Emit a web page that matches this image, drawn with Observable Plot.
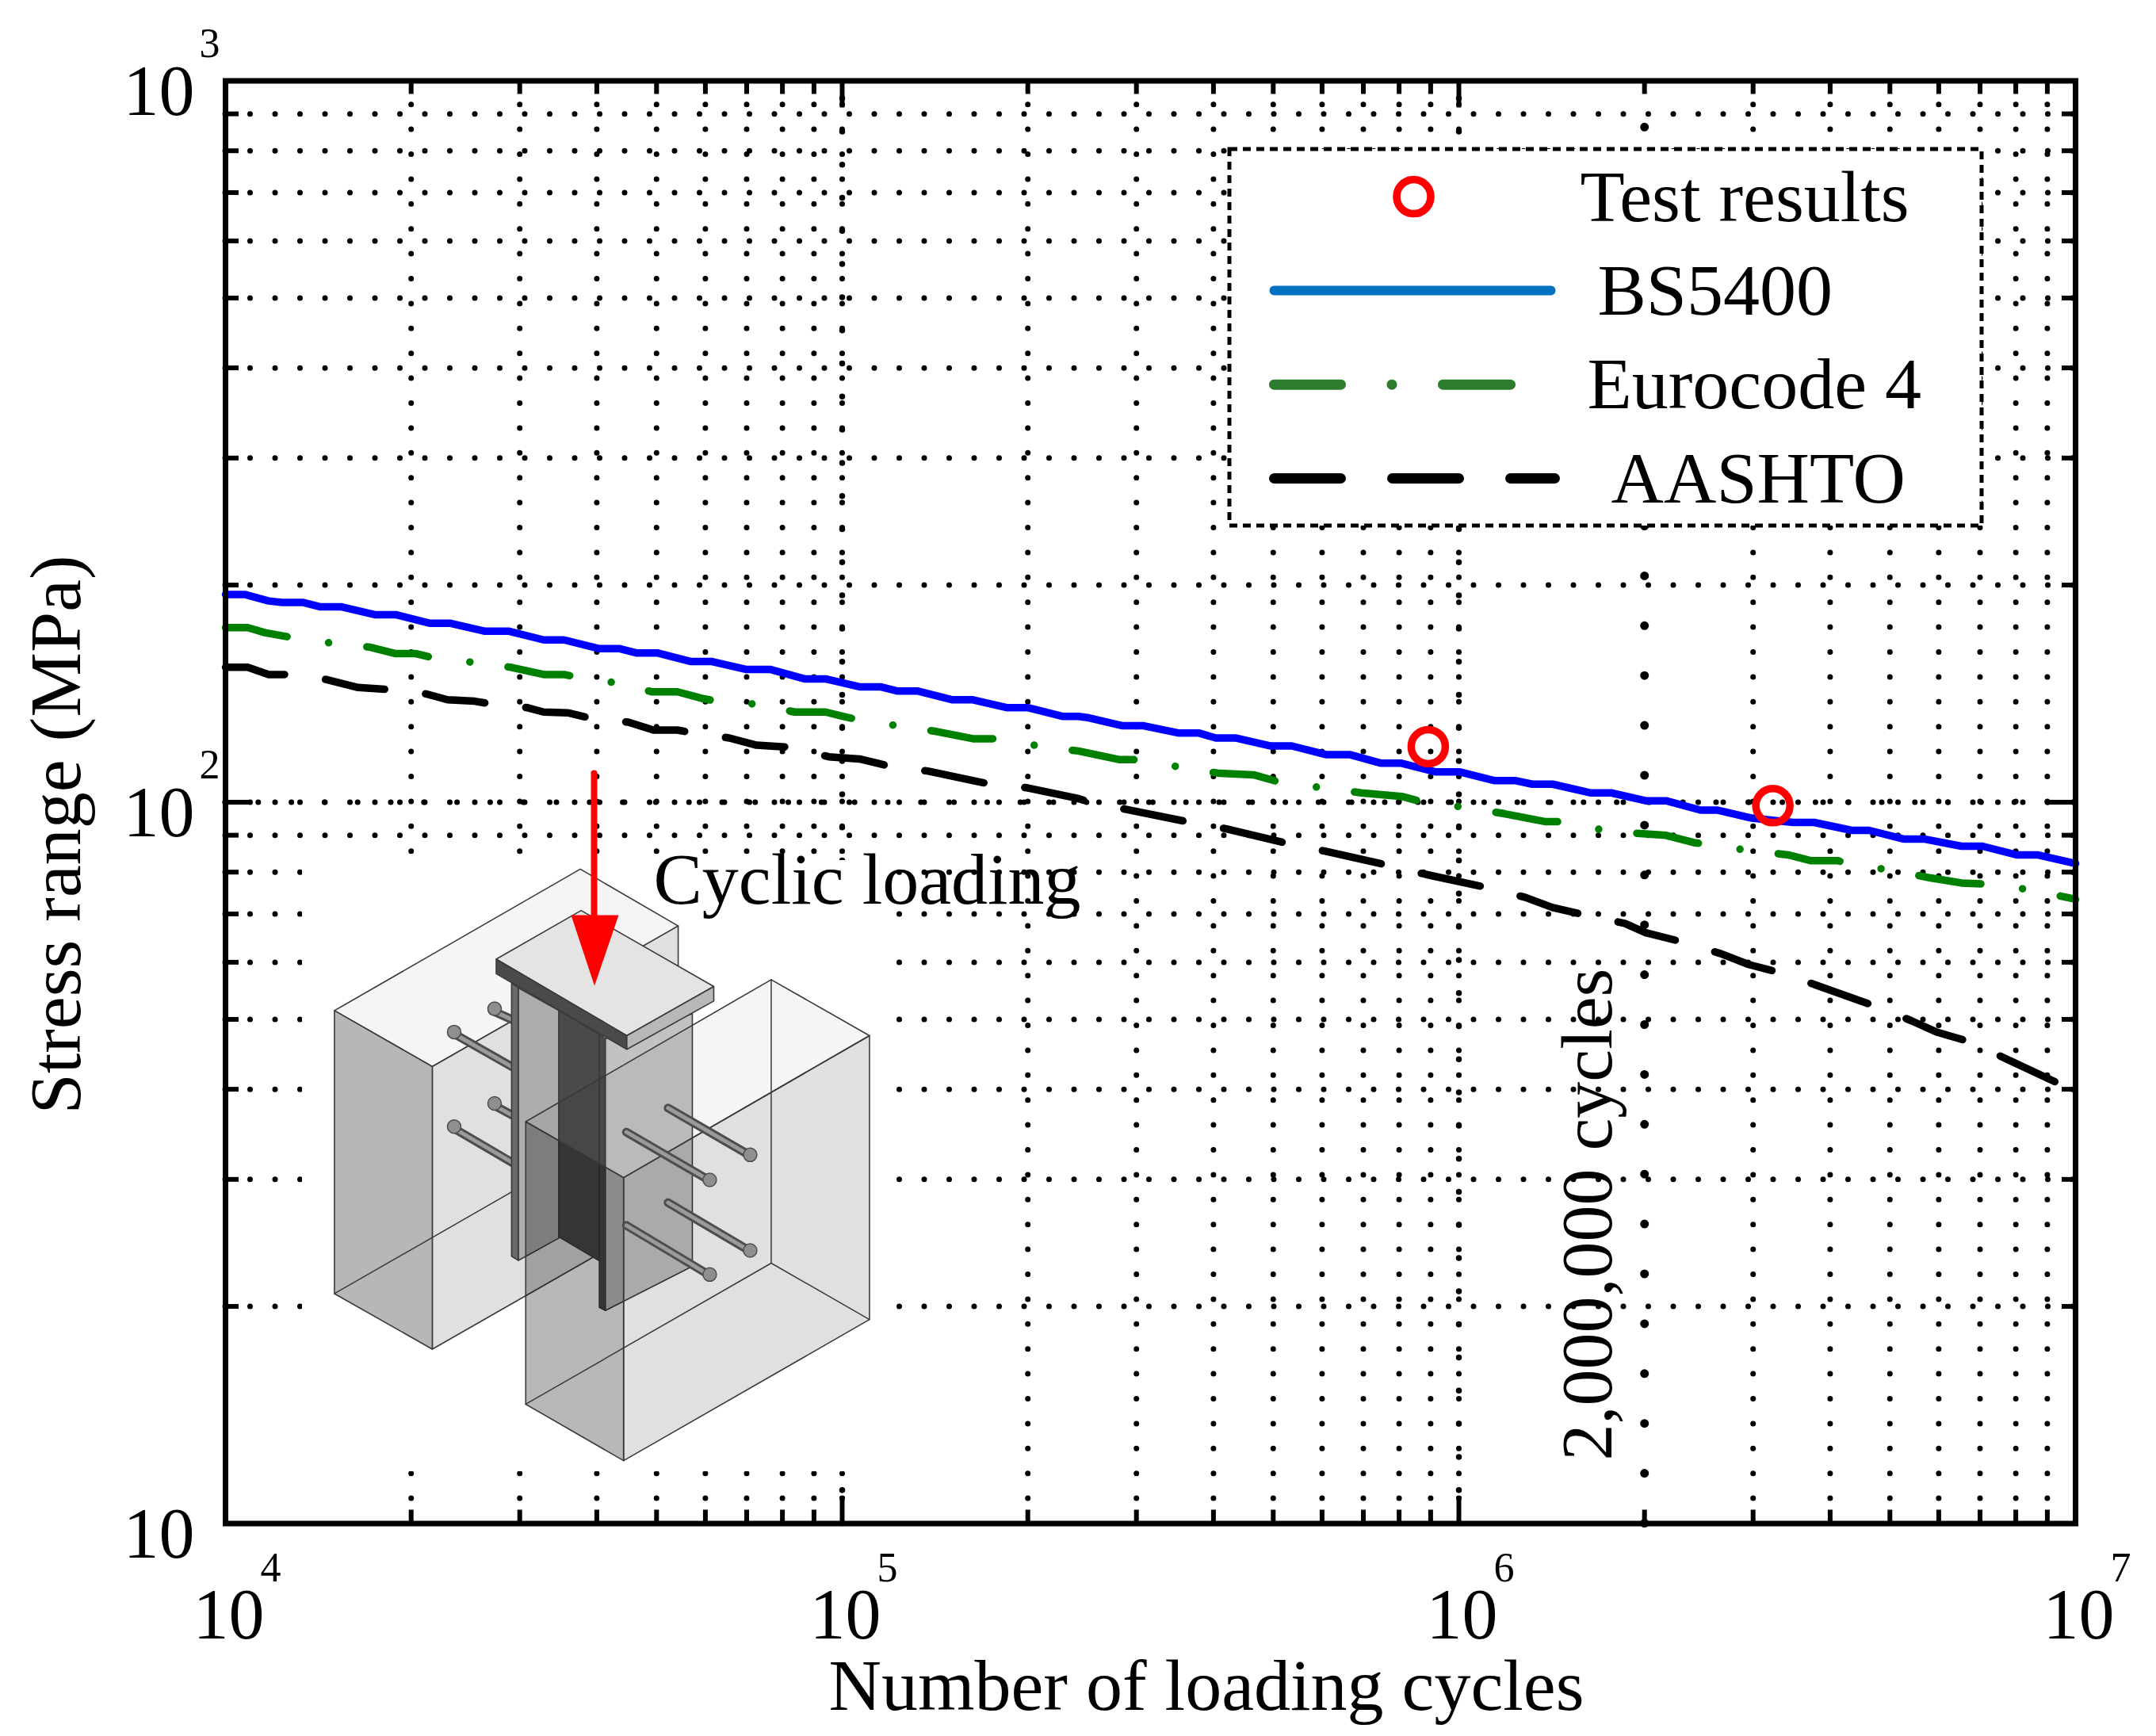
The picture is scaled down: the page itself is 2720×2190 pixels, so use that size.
<!DOCTYPE html>
<html>
<head>
<meta charset="utf-8">
<script src="https://cdn.jsdelivr.net/npm/d3@7"></script>
<script src="https://cdn.jsdelivr.net/npm/@observablehq/plot@0.6"></script>
<style>
html,body{margin:0;padding:0;background:#fff;overflow:hidden}
svg{display:block}
</style>
</head>
<body>
<div id="chart"></div>
<script>
// ---- values, stored as log10(value) ----
const bsLogN = [4.000,4.031,4.070,4.092,4.125,4.153,4.187,4.242,4.276,4.332,4.365,4.421,4.460,4.516,4.549,4.605,4.638,4.666,4.700,4.755,4.789,4.845,4.884,4.939,4.973,5.028,5.062,5.090,5.123,5.179,5.212,5.268,5.302,5.357,5.383,5.400,5.455,5.489,5.545,5.578,5.606,5.639,5.695,5.729,5.784,5.823,5.874,5.907,5.963,6.002,6.057,6.091,6.119,6.152,6.213,6.247,6.303,6.336,6.392,6.420,6.475,6.542,6.576,6.637,6.665,6.721,6.754,6.815,6.849,6.904,6.938,7.000];
const bsLogS = [2.288,2.288,2.279,2.277,2.277,2.271,2.271,2.260,2.260,2.248,2.248,2.237,2.237,2.225,2.225,2.213,2.213,2.207,2.207,2.195,2.195,2.184,2.184,2.171,2.171,2.160,2.160,2.154,2.154,2.142,2.142,2.131,2.131,2.119,2.119,2.117,2.106,2.106,2.096,2.096,2.089,2.089,2.078,2.078,2.066,2.066,2.054,2.054,2.042,2.042,2.030,2.030,2.025,2.025,2.013,2.013,2.002,2.002,1.989,1.989,1.978,1.972,1.972,1.961,1.961,1.949,1.949,1.939,1.939,1.927,1.927,1.915];

const ecLogN = [4.000,4.036,4.064,4.103,4.168,4.234,4.276,4.309,4.337,4.399,4.463,4.516,4.549,4.566,4.629,4.692,4.733,4.772,4.797,4.859,4.923,4.973,5.001,5.028,5.089,5.153,5.212,5.257,5.318,5.383,5.450,5.489,5.550,5.612,5.667,5.717,5.780,5.842,5.907,5.948,6.010,6.074,6.141,6.178,6.239,6.303,6.336,6.381,6.406,6.470,6.534,6.570,6.615,6.637,6.701,6.765,6.815,6.868,6.930,6.997,7.000];
const ecLogS = [2.242,2.242,2.235,2.229,2.221,2.215,2.206,2.206,2.200,2.194,2.187,2.177,2.177,2.174,2.166,2.153,2.153,2.144,2.140,2.136,2.125,2.125,2.119,2.114,2.106,2.098,2.088,2.088,2.078,2.071,2.059,2.059,2.048,2.040,2.038,2.026,2.020,2.013,2.008,1.999,1.993,1.984,1.973,1.973,1.960,1.956,1.954,1.944,1.941,1.933,1.927,1.919,1.919,1.913,1.906,1.895,1.888,1.886,1.878,1.866,1.865];

const aaLogN = [4.000,4.036,4.070,4.105,4.164,4.215,4.270,4.326,4.360,4.404,4.432,4.490,4.516,4.555,4.594,4.653,4.694,4.733,4.758,4.817,4.861,4.919,4.978,5.028,5.081,5.140,5.240,5.300,5.383,5.405,5.461,5.565,5.623,5.726,5.784,5.888,5.946,6.049,6.108,6.152,6.208,6.269,6.303,6.364,6.425,6.470,6.520,6.581,6.676,6.734,6.776,6.832,6.888,6.988,7.000];
const aaLogS = [2.187,2.187,2.177,2.177,2.170,2.159,2.156,2.150,2.142,2.140,2.136,2.131,2.125,2.124,2.116,2.111,2.100,2.100,2.096,2.089,2.079,2.076,2.063,2.060,2.049,2.043,2.025,2.020,2.005,1.999,1.990,1.972,1.963,1.942,1.932,1.912,1.900,1.881,1.868,1.854,1.843,1.832,1.819,1.806,1.790,1.775,1.764,1.746,1.717,1.697,1.681,1.667,1.644,1.604,1.600];

const testCycles = [892000, 3230000];
const testStress = [119.4, 98.9];

const xMajor = [1e4, 1e5, 1e6, 1e7];
const xExponents = ["4", "5", "6", "7"];
const yMajor = [10, 100, 1000];
const yExpValues = [100, 1000];
const yExponents = ["2", "3"];
const xMinorTicks = [2e4,3e4,4e4,5e4,6e4,7e4,8e4,9e4,2e5,3e5,4e5,5e5,6e5,7e5,8e5,9e5,2e6,3e6,4e6,5e6,6e6,7e6,8e6,9e6];
const yMinorTicks = [20,30,40,50,60,70,80,90,200,300,400,500,600,700,800,900];
const designCycles = [2000000];

const series = (logN, logS) => logN.map((v, i) => ({n: 10 ** v, s: 10 ** logS[i]}));
const bs = series(bsLogN, bsLogS);
const ec = series(ecLogN, ecLogS);
const aa = series(aaLogN, aaLogS);
const tests = testCycles.map((n, i) => ({n, s: testStress[i]}));

// ---- layout helpers: place annotations through the same log scales ----
const font = "'Liberation Serif','Times New Roman',serif";
const L = 284, R = 2618, T = 101.5, B = 1921.5;
const at = (px, py) => ({
  x: 10 ** (4 + 3 * (px - L) / (R - L)),
  y: 10 ** (3 - 2 * (py - T) / (B - T))
});
const label = (text, px, py, extra = {}) => {
  const p = at(px, py);
  return Plot.text([text], {x: () => p.x, y: () => p.y, text: d => d, fontFamily: font, fontSize: 92,
    textAnchor: "start", lineAnchor: "bottom", fill: "black", ...extra});
};
const seg = (pts, opts) => Plot.line(pts.map(([a, b]) => at(a, b)), {x: "x", y: "y", ...opts});

// ---- inset drawing of the push-out specimen ----
const iso = ([a, b]) => at(350 + a / 1.96, 1000 + b / 1.742);
const edge = "#3a3a3a";
const face = (pts, fill, o = {}) => Plot.line(pts.map(iso), {x: "x", y: "y", curve: "linear-closed", fill,
  stroke: edge, strokeWidth: 1.6, strokeLinejoin: "round", ...o});
const wire = (pts, o = {}) => Plot.line(pts.map(iso), {x: "x", y: "y", stroke: edge, strokeWidth: 1.5, ...o});
const rod = (a, b, head) => [
  Plot.line([a, b].map(iso), {x: "x", y: "y", stroke: "#4d4d4d", strokeWidth: 11, strokeLinecap: "round"}),
  Plot.line([a, b].map(iso), {x: "x", y: "y", stroke: "#9a9a9a", strokeWidth: 5, strokeLinecap: "round"}),
  Plot.dot([iso(head)], {x: "x", y: "y", r: 8.5, fill: "#8f8f8f", stroke: "#4d4d4d", strokeWidth: 1.5})
];
const inset = [
  // white backing of the pasted drawing
  Plot.rect([0], {x1: at(381, 0).x, x2: at(1129, 0).x, y1: at(0, 1085).y, y2: at(0, 1856).y, fill: "white"}),
  // rear block
  face([[140,478],[748,167],[990,292],[382,601]], "#f5f5f5"),
  face([[382,601],[990,292],[990,913],[382,1222]], "#e0e0e0"),
  face([[140,478],[382,601],[382,1222],[140,1100]], "#b7b7b7"),
  wire([[140,1100],[748,790]]),
  ...rod([530,478],[580,498],[536,474]),
  ...rod([432,527],[580,602],[436,525]),
  ...rod([530,684],[580,708],[536,682]),
  ...rod([432,735],[580,812],[436,733]),
  // steel section
  face([[578,418],[595,428],[595,1027],[578,1018]], "#6a6a6a"),
  face([[595,428],[695,478],[695,978],[595,1027]], "#adadad"),
  face([[695,478],[795,530],[795,1028],[695,975]], "#4a4a4a"),
  face([[795,530],[810,540],[810,1137],[795,1130]], "#4a4a4a"),
  face([[810,540],[1025,485],[1025,1040],[810,1137]], "#c2c2c2"),
  face([[540,365],[750,258],[1078,425],[863,533]], "#e4e4e4"),
  face([[540,365],[863,533],[863,563],[540,397]], "#4a4a4a"),
  face([[863,533],[1078,425],[1078,457],[863,563]], "#b8b8b8"),
  // front block (see-through)
  face([[613,722],[1220,410],[1463,533],[855,845]], "black", {fillOpacity: 0.04}),
  face([[855,845],[1463,533],[1463,1157],[855,1467]], "black", {fillOpacity: 0.12}),
  face([[613,722],[855,845],[855,1467],[613,1343]], "black", {fillOpacity: 0.28}),
  wire([[1220,410],[1220,1033]]),
  wire([[613,1343],[1220,1033],[1463,1157]]),
  ...rod([965,692],[1165,795],[1168,795]),
  ...rod([862,745],[1065,850],[1068,850]),
  ...rod([965,900],[1165,1005],[1168,1005]),
  ...rod([862,950],[1065,1058],[1068,1058])
];

// ---- legend box corners ----
const lgA = at(1551, 188), lgB = at(2500, 663);

const chart = Plot.plot({
  width: 2720, height: 2190,
  marginLeft: L, marginRight: 2720 - R, marginTop: T, marginBottom: 2190 - B,
  x: {type: "log", domain: [1e4, 1e7]},
  y: {type: "log", domain: [10, 1000]},
  style: {background: "white", fontFamily: font},
  marks: [
    // dotted grid
    Plot.ruleX(xMinorTicks.filter(v => v !== designCycles[0]).concat([1e5, 1e6]), {x: d => d, y1: 10, y2: 1000, stroke: "black", strokeWidth: 7, strokeLinecap: "round", strokeDasharray: "0 31.4"}),
    Plot.ruleX([1e5, 1e6], {x: d => d, y1: 10, y2: 1000, stroke: "black", strokeWidth: 7.5, strokeLinecap: "round", strokeDasharray: "0 41.8"}),
    Plot.ruleY(yMinorTicks.concat([100]), {y: d => d, x1: 1e4, x2: 1e7, stroke: "black", strokeWidth: 7, strokeLinecap: "round", strokeDasharray: "0 31.5"}),
    Plot.ruleY([100], {y: d => d, x1: 1e4, x2: 1e7, stroke: "black", strokeWidth: 7, strokeLinecap: "round", strokeDasharray: "0 41.8"}),
    // inward ticks on all four sides
    Plot.ruleX(xMinorTicks, {x: d => d, y1: 10, y2: at(0, B - 17).y, stroke: "black", strokeWidth: 6}),
    Plot.ruleX(xMinorTicks, {x: d => d, y1: 1000, y2: at(0, T + 17).y, stroke: "black", strokeWidth: 6}),
    Plot.ruleX([1e5, 1e6], {x: d => d, y1: 10, y2: at(0, B - 34).y, stroke: "black", strokeWidth: 6}),
    Plot.ruleX([1e5, 1e6], {x: d => d, y1: 1000, y2: at(0, T + 34).y, stroke: "black", strokeWidth: 6}),
    Plot.ruleY(yMinorTicks, {y: d => d, x1: 1e4, x2: at(L + 17, 0).x, stroke: "black", strokeWidth: 6}),
    Plot.ruleY(yMinorTicks, {y: d => d, x1: 1e7, x2: at(R - 17, 0).x, stroke: "black", strokeWidth: 6}),
    Plot.ruleY([100], {y: d => d, x1: 1e4, x2: at(L + 32, 0).x, stroke: "black", strokeWidth: 6}),
    Plot.ruleY([100], {y: d => d, x1: 1e7, x2: at(R - 32, 0).x, stroke: "black", strokeWidth: 6}),
    // 2,000,000 cycles marker
    Plot.ruleX(designCycles, {x: d => d, y1: 10, y2: 1000, stroke: "black", strokeWidth: 11, strokeLinecap: "round", strokeDasharray: "0 62.9"}),
    // axes
    Plot.axisX({ticks: xMajor, tickFormat: () => "10", tickSize: 0, tickPadding: 81, fontSize: 90, fontFamily: font, dx: 4, fill: "black", label: null}),
    Plot.axisY({ticks: yMajor, tickFormat: () => "10", tickSize: 0, tickPadding: 39, fontSize: 90, fontFamily: font, dy: 14, fill: "black", label: null}),
    Plot.text(xExponents, {x: (d, i) => xMajor[i], y: () => 10, text: d => d, dx: 57, dy: 73, fontSize: 52, fontFamily: font, textAnchor: "middle", lineAnchor: "bottom", fill: "black"}),
    Plot.text(yExponents, {x: () => 1e4, y: (d, i) => yExpValues[i], text: d => d, dx: -20, dy: -30, fontSize: 52, fontFamily: font, textAnchor: "middle", lineAnchor: "bottom", fill: "black"}),
    // inset
    ...inset,
    // red load arrow
    seg([[749, 975], [749, 1160]], {stroke: "#ff0000", strokeWidth: 8}),
    Plot.line([[720, 1154], [780, 1154], [749.5, 1243]].map(([a, b]) => at(a, b)), {x: "x", y: "y", curve: "linear-closed", fill: "#ff0000", stroke: "none"}),
    label("Cyclic loading", 824, 1139.5),
    label("2,000,000 cycles", 2032, 1842, {rotate: -90}),
    // S-N curves
    Plot.line(bs, {x: "n", y: "s", stroke: "#0000ff", strokeWidth: 9.5, strokeLinejoin: "round"}),
    Plot.line(ec, {x: "n", y: "s", stroke: "#008000", strokeWidth: 9.5, strokeLinecap: "round", strokeLinejoin: "round", strokeDasharray: "79 53 0 48.5"}),
    Plot.line(aa, {x: "n", y: "s", stroke: "black", strokeWidth: 9.5, strokeLinecap: "round", strokeLinejoin: "round", strokeDasharray: "76 52"}),
    // legend
    Plot.rect([0], {x1: lgA.x, x2: lgB.x, y1: lgA.y, y2: lgB.y, fill: "white", stroke: "black", strokeWidth: 5, strokeDasharray: "10 7"}),
    seg([[1607, 366], [1956, 366]], {stroke: "#0070c0", strokeWidth: 12, strokeLinecap: "round"}),
    seg([[1607, 484.7], [1906, 484.7]], {stroke: "#2e7d2e", strokeWidth: 13, strokeLinecap: "round", strokeDasharray: "84 64.5 0 64.5 85"}),
    seg([[1607, 603], [1961, 603]], {stroke: "black", strokeWidth: 13, strokeLinecap: "round", strokeDasharray: "84 65"}),
    Plot.dot([at(1783, 247.6)], {x: "x", y: "y", r: 21.5, fill: "none", stroke: "#ff0000", strokeWidth: 9.5}),
    label("Test results", 1993, 278.5),
    label("BS5400", 2015, 396),
    label("Eurocode 4", 2002, 514),
    label("AASHTO", 2032, 633),
    // test results
    Plot.dot(tests, {x: "n", y: "s", r: 21.5, fill: "none", stroke: "#ff0000", strokeWidth: 9.5}),
    // axis titles
    label("Number of loading cycles", 1045, 2156),
    label("Stress range (MPa)", 100, 1405, {rotate: -90}),
    Plot.frame({stroke: "black", strokeWidth: 7})
  ]
});
document.getElementById("chart").append(chart);
</script>
</body>
</html>
